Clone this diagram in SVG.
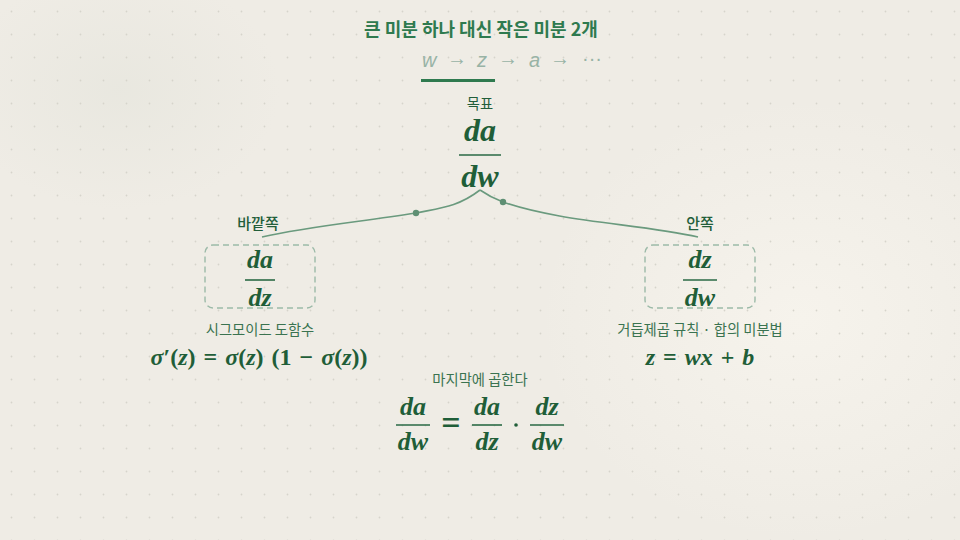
<svg xmlns="http://www.w3.org/2000/svg" width="960" height="540" viewBox="0 0 960 540">
<defs>
<pattern id="grid" x="0" y="0" width="23" height="23" patternUnits="userSpaceOnUse">
<circle cx="11.5" cy="11.5" r="0.9" fill="#d6d4cb"/>
</pattern>
<radialGradient id="blob1" cx="0.5" cy="0.5" r="0.5">
<stop offset="0" stop-color="#e8e7df" stop-opacity="0.9"/>
<stop offset="1" stop-color="#e8e7df" stop-opacity="0"/>
</radialGradient>
<radialGradient id="blob2" cx="0.5" cy="0.5" r="0.5">
<stop offset="0" stop-color="#f6f3ec" stop-opacity="1"/>
<stop offset="1" stop-color="#f6f3ec" stop-opacity="0"/>
</radialGradient>
</defs>
<style>
.kr{font-family:"Noto Sans CJK KR","Noto Sans",sans-serif;fill:#2a6a44;}
.title{font-size:18px;font-weight:700;fill:#2f7a4f;}
.lbl{font-size:15px;font-weight:500;fill:#225e3a;}
.small{font-size:14.3px;font-weight:400;fill:#3a7350;}
.math{font-family:"Liberation Serif","DejaVu Serif",serif;font-style:italic;font-weight:700;fill:#1f5e38;}
.mathr{font-family:"Liberation Serif","DejaVu Serif",serif;font-weight:700;fill:#1f5e38;}
.seq{font-family:"Liberation Sans","DejaVu Sans",sans-serif;font-size:20px;fill:#98b3a5;}
.bar{stroke:#2a6a44;stroke-width:1.6;}
.box{fill:none;stroke:#9cbaa8;stroke-width:1.4;stroke-dasharray:6 4;}
.conn{fill:none;stroke:#6a9a7e;stroke-width:1.6;}
.dot{fill:#5e8f73;}
</style>
<rect width="960" height="540" fill="#efece5"/>
<ellipse cx="120" cy="90" rx="160" ry="120" fill="url(#blob1)"/>
<ellipse cx="800" cy="320" rx="260" ry="220" fill="url(#blob2)"/>
<rect width="960" height="540" fill="url(#grid)"/>

<g id="header">
<text class="kr title" x="481" y="36" text-anchor="middle">큰 미분 하나 대신 작은 미분 2개</text>
<text class="seq" x="422" y="67" font-style="italic">w</text>
<text class="seq" x="447" y="65">→</text>
<text class="seq" x="477" y="67" font-style="italic">z</text>
<text class="seq" x="498" y="65">→</text>
<text class="seq" x="529" y="67" font-style="italic">a</text>
<text class="seq" x="550" y="65">→</text>
<text class="seq" x="582" y="65">···</text>
<rect x="421" y="79" width="74" height="3" fill="#2f7a4f"/>
</g>

<g id="connectors">
<path class="conn" d="M480,190 C458,207 440,208 416,213 C360,222 310,226 262,237"/>
<path class="conn" d="M480,190 C490,197 495,199 503,202 C560,222 640,224 698,237"/>
<circle class="dot" cx="416" cy="213" r="3.2"/>
<circle class="dot" cx="503" cy="202" r="3.2"/>
</g>

<g id="goal">
<text class="kr small" x="480" y="109" text-anchor="middle" style="fill:#225e3a">목표</text>
<text class="math" x="480" y="141" font-size="32" text-anchor="middle">da</text>
<line class="bar" x1="459" y1="155" x2="501" y2="155"/>
<text class="math" x="480" y="187" font-size="32" text-anchor="middle">dw</text>
</g>

<g id="outer">
<text class="kr lbl" x="258" y="229" text-anchor="middle">바깥쪽</text>
<rect class="box" x="205" y="245" width="110" height="63" rx="8"/>
<text class="math" x="260" y="268" font-size="26" text-anchor="middle">da</text>
<line class="bar" x1="245" y1="280" x2="275" y2="280"/>
<text class="math" x="260" y="306" font-size="26" text-anchor="middle">dz</text>
<text class="kr small" x="260" y="335" text-anchor="middle">시그모이드 도함수</text>
<text class="mathr" x="259" y="365" font-size="24" text-anchor="middle" word-spacing="2"><tspan font-style="italic">σ</tspan>′(<tspan font-style="italic">z</tspan>) = <tspan font-style="italic">σ</tspan>(<tspan font-style="italic">z</tspan>) (1 − <tspan font-style="italic">σ</tspan>(<tspan font-style="italic">z</tspan>))</text>
</g>

<g id="inner">
<text class="kr lbl" x="700" y="229" text-anchor="middle">안쪽</text>
<rect class="box" x="645" y="245" width="110" height="63" rx="8"/>
<text class="math" x="700" y="268" font-size="26" text-anchor="middle">dz</text>
<line class="bar" x1="683" y1="280" x2="717" y2="280"/>
<text class="math" x="700" y="306" font-size="26" text-anchor="middle">dw</text>
<text class="kr small" x="700" y="335" text-anchor="middle">거듭제곱 규칙 · 합의 미분법</text>
<text class="mathr" x="700" y="365" font-size="24" text-anchor="middle" word-spacing="2"><tspan font-style="italic">z</tspan> = <tspan font-style="italic">wx</tspan> + <tspan font-style="italic">b</tspan></text>
</g>

<g id="result">
<text class="kr small" x="480" y="385" text-anchor="middle">마지막에 곱한다</text>
<text class="math" x="413" y="415" font-size="26" text-anchor="middle">da</text>
<line class="bar" x1="396" y1="425" x2="430" y2="425"/>
<text class="math" x="413" y="450" font-size="26" text-anchor="middle">dw</text>
<text class="mathr" x="451" y="434" font-size="34" text-anchor="middle">=</text>
<text class="math" x="487" y="415" font-size="26" text-anchor="middle">da</text>
<line class="bar" x1="472" y1="425" x2="502" y2="425"/>
<text class="math" x="487" y="450" font-size="26" text-anchor="middle">dz</text>
<circle cx="516" cy="425" r="1.8" fill="#1f5e38"/>
<text class="math" x="547" y="415" font-size="26" text-anchor="middle">dz</text>
<line class="bar" x1="530" y1="425" x2="564" y2="425"/>
<text class="math" x="547" y="450" font-size="26" text-anchor="middle">dw</text>
</g>
</svg>
